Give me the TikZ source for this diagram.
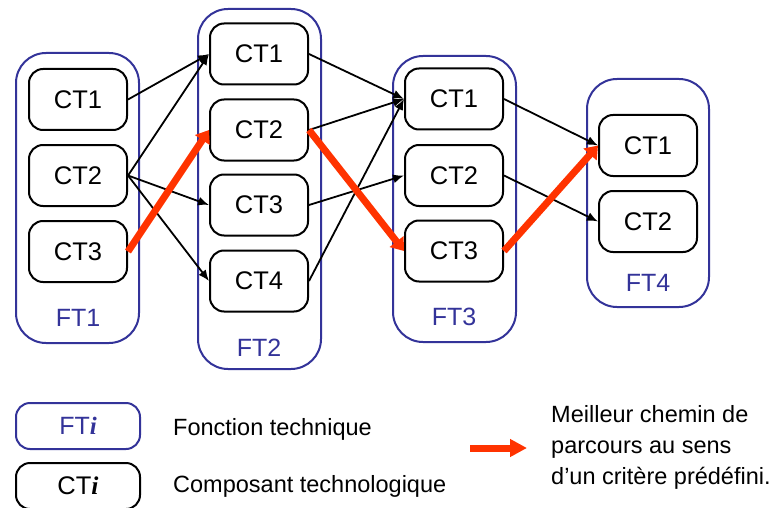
\documentclass[tikz,border=0pt]{standalone}
\usepackage{fontspec}
\setmainfont{Liberation Sans}
\newfontfamily\serifit{Liberation Serif}
\usetikzlibrary{arrows.meta}
\definecolor{ftblue}{RGB}{51,51,153}
\definecolor{pathred}{RGB}{255,51,0}
\tikzset{
  ctbox/.style={draw=black, line width=2pt, rounded corners=14pt, minimum width=98pt, minimum height=61pt, inner sep=0pt, font=\fontsize{25.5}{30}\selectfont},
  ftbox/.style={draw=ftblue, line width=2pt, rounded corners=30pt, inner sep=0pt},
  ftlabel/.style={text=ftblue, font=\fontsize{25}{30}\selectfont, inner sep=0pt},
  link/.style={draw=black, line width=1.8pt, -{Latex[length=11pt,width=9pt]}},
  best/.style={draw=pathred, line width=7pt, -{Triangle[length=12pt,width=17pt]}},
  legtext/.style={font=\fontsize{23.5}{31}\selectfont, inner sep=0pt, align=left},
}
\begin{document}
\begin{tikzpicture}[x=1pt,y=-1pt]
\useasboundingbox (0,0) rectangle (776,508);
% containers
\node[ftbox, minimum width=123pt, minimum height=290pt] (F1) at (77.5,198) {};
\node[ftbox, minimum width=123pt, minimum height=360pt] (F2) at (259.5,189) {};
\node[ftbox, minimum width=123pt, minimum height=286pt] (F3) at (454.5,199) {};
\node[ftbox, minimum width=122pt, minimum height=228pt] (F4) at (648,193) {};
\node[ftlabel] (L1) at (78,318) {FT1};
\node[ftlabel] (L2) at (259,348) {FT2};
\node[ftlabel] (L3) at (454,317) {FT3};
\node[ftlabel] (L4) at (648,283) {FT4};
% components
\node[ctbox] (a1) at (78,99.5) {CT1};
\node[ctbox] (a2) at (78,175.5) {CT2};
\node[ctbox] (a3) at (78,251.5) {CT3};
\node[ctbox] (b1) at (259,54) {CT1};
\node[ctbox] (b2) at (259,130) {CT2};
\node[ctbox] (b3) at (259,205) {CT3};
\node[ctbox] (b4) at (259,281) {CT4};
\node[ctbox] (c1) at (454,99) {CT1};
\node[ctbox] (c2) at (454,175.5) {CT2};
\node[ctbox] (c3) at (454,251) {CT3};
\node[ctbox] (d1) at (648,145.5) {CT1};
\node[ctbox] (d2) at (648,221.5) {CT2};
% links
\draw[link] (a1.east) -- (b1.west);
\draw[link] (a2.east) -- (b1.west);
\draw[link] (a2.east) -- (b3.west);
\draw[link] (a2.east) -- (b4.west);
\draw[link] (b1.east) -- (c1.west);
\draw[link] (b2.east) -- (c1.west);
\draw[link] (b4.east) -- (c1.west);
\draw[link] (b3.east) -- (c2.west);
\draw[link] (c1.east) -- (d1.west);
\draw[link] (c2.east) -- (d2.west);
% best path
\draw[best] (a3.east) -- (b2.west);
\draw[best] (b2.east) -- (c3.west);
\draw[best] (c3.east) -- (d1.west);
% legend
\node[ftbox, rounded corners=14pt, minimum width=124pt, minimum height=46pt, text=ftblue, font=\fontsize{25}{30}\selectfont] (lf) at (78,426) {FT{\serifit\bfseries\itshape i}};
\node[ctbox, minimum width=124pt, minimum height=46pt] (lc) at (78,486) {CT{\serifit\bfseries\itshape i}};
\node[legtext, anchor=base west] (tf) at (173,435) {Fonction technique};
\node[legtext, anchor=base west] (tc) at (173,492) {Composant technologique};
\coordinate (ra) at (470,448);
\coordinate (rb) at (527,448);
\draw[best, -{Triangle[length=17pt,width=17pt]}] (ra) -- (rb);
\node[legtext, anchor=north west] (tb) at (551,405) {Meilleur chemin de\\parcours au sens\\d’un critère prédéfini.};
\end{tikzpicture}
\end{document}
